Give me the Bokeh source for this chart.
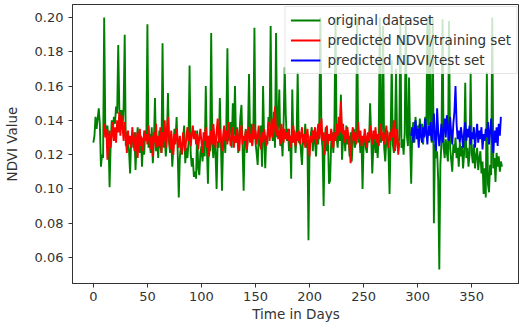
from bokeh.plotting import figure
from bokeh.models import ColumnDataSource, Legend, LegendItem, FixedTicker, PrintfTickFormatter, Range1d
from bokeh.embed import file_html
from bokeh.resources import INLINE

# ---- data ----
original_values = [
    0.127, 0.131, 0.142, 0.135, 0.141, 0.147, 0.138, 0.113, 0.120, 0.118,
    0.200, 0.138, 0.131, 0.137, 0.129, 0.101, 0.126, 0.140, 0.134, 0.142,
    0.138, 0.148, 0.144, 0.184, 0.147, 0.140, 0.146, 0.135, 0.148, 0.190,
    0.125, 0.133, 0.128, 0.122, 0.109, 0.129, 0.131, 0.124, 0.133, 0.111,
    0.127, 0.136, 0.126, 0.121, 0.131, 0.113, 0.128, 0.120, 0.134, 0.130,
    0.196, 0.124, 0.132, 0.121, 0.136, 0.115, 0.127, 0.153, 0.122, 0.130,
    0.118, 0.134, 0.125, 0.121, 0.185, 0.124, 0.131, 0.119, 0.128, 0.156,
    0.127, 0.121, 0.130, 0.113, 0.124, 0.135, 0.128, 0.142, 0.122, 0.095,
    0.118, 0.126, 0.121, 0.129, 0.137, 0.115, 0.124, 0.118, 0.127, 0.172,
    0.121, 0.113, 0.118, 0.107, 0.110, 0.106, 0.134, 0.112, 0.108, 0.121,
    0.125, 0.116, 0.128, 0.119, 0.160, 0.124, 0.103, 0.131, 0.122, 0.191,
    0.126, 0.118, 0.132, 0.121, 0.100, 0.128, 0.124, 0.153, 0.127, 0.099,
    0.126, 0.133, 0.121, 0.137, 0.182, 0.128, 0.135, 0.139, 0.124, 0.150,
    0.131, 0.160, 0.127, 0.136, 0.121, 0.130, 0.142, 0.149, 0.125, 0.099,
    0.128, 0.135, 0.121, 0.132, 0.167, 0.129, 0.138, 0.126, 0.133, 0.194,
    0.127, 0.121, 0.114, 0.131, 0.125, 0.137, 0.113, 0.160, 0.128, 0.112,
    0.131, 0.126, 0.142, 0.136, 0.195, 0.133, 0.128, 0.145, 0.124, 0.191,
    0.130, 0.137, 0.158, 0.125, 0.131, 0.119, 0.139, 0.171, 0.143, 0.128,
    0.135, 0.122, 0.131, 0.106, 0.158, 0.127, 0.134, 0.121, 0.130, 0.168,
    0.127, 0.133, 0.122, 0.114, 0.131, 0.126, 0.138, 0.124, 0.129, 0.070,
    0.125, 0.131, 0.136, 0.122, 0.134, 0.128, 0.119, 0.133, 0.126, 0.140,
    0.200, 0.131, 0.124, 0.090, 0.129, 0.136, 0.122, 0.131, 0.103, 0.105,
    0.127, 0.133, 0.121, 0.138, 0.200, 0.130, 0.124, 0.136, 0.128, 0.155,
    0.117, 0.129, 0.134, 0.122, 0.137, 0.126, 0.131, 0.119, 0.133, 0.116,
    0.128, 0.135, 0.124, 0.130, 0.200, 0.127, 0.133, 0.121, 0.129, 0.100,
    0.126, 0.132, 0.124, 0.121, 0.130, 0.127, 0.150, 0.131, 0.109, 0.125,
    0.133, 0.121, 0.128, 0.118, 0.132, 0.200, 0.127, 0.135, 0.195, 0.124,
    0.116, 0.129, 0.134, 0.122, 0.097, 0.131, 0.175, 0.126, 0.121, 0.133,
    0.170, 0.127, 0.122, 0.131, 0.200, 0.124, 0.129, 0.120, 0.133, 0.200,
    0.131, 0.125, 0.165, 0.128, 0.103, 0.134, 0.139, 0.127, 0.142, 0.131,
    0.137, 0.129, 0.141, 0.133, 0.138, 0.126, 0.135, 0.142, 0.131, 0.200,
    0.137, 0.200, 0.134, 0.127, 0.200, 0.080, 0.126, 0.118, 0.122, 0.105,
    0.053, 0.114, 0.127, 0.199, 0.124, 0.118, 0.129, 0.121, 0.116, 0.198,
    0.124, 0.117, 0.110, 0.126, 0.121, 0.130, 0.118, 0.124, 0.113, 0.127,
    0.119, 0.125, 0.112, 0.121, 0.162, 0.118, 0.124, 0.113, 0.120, 0.168,
    0.121, 0.115, 0.126, 0.112, 0.119, 0.124, 0.111, 0.118, 0.122, 0.109,
    0.116, 0.097, 0.112, 0.095, 0.168, 0.103, 0.098, 0.114, 0.108, 0.200,
    0.112, 0.118, 0.104, 0.121, 0.113, 0.119, 0.110, 0.116, 0.113,
]
original_days = list(range(len(original_values)))

train_start_day = 10
train_pred_values = [
    0.138, 0.130, 0.135, 0.117, 0.129, 0.134, 0.124, 0.131, 0.139, 0.128,
    0.136, 0.127, 0.140, 0.133, 0.145, 0.131, 0.143, 0.136, 0.128, 0.139,
    0.130, 0.121, 0.134, 0.126, 0.131, 0.124, 0.136, 0.129, 0.122, 0.133,
    0.127, 0.118, 0.131, 0.135, 0.125, 0.130, 0.122, 0.134, 0.128, 0.132,
    0.126, 0.137, 0.129, 0.123, 0.131, 0.119, 0.133, 0.127, 0.138, 0.124,
    0.131, 0.125, 0.136, 0.121, 0.133, 0.128, 0.140, 0.124, 0.135, 0.142,
    0.130, 0.123, 0.134, 0.127, 0.120, 0.132, 0.126, 0.135, 0.129, 0.124,
    0.131, 0.125, 0.120, 0.133, 0.127, 0.122, 0.130, 0.136, 0.128, 0.133,
    0.125, 0.131, 0.137, 0.129, 0.134, 0.126, 0.132, 0.123, 0.130, 0.135,
    0.127, 0.121, 0.133, 0.128, 0.136, 0.124, 0.131, 0.119, 0.129, 0.134,
    0.126, 0.138, 0.130, 0.124, 0.133, 0.141, 0.127, 0.135, 0.129, 0.122,
    0.131, 0.137, 0.128, 0.134, 0.126, 0.139, 0.132, 0.125, 0.130, 0.136,
    0.124, 0.131, 0.127, 0.135, 0.129, 0.122, 0.133, 0.137, 0.126, 0.131,
    0.128, 0.134, 0.123, 0.130, 0.136, 0.127, 0.132, 0.125, 0.138, 0.129,
    0.134, 0.126, 0.131, 0.137, 0.128, 0.123, 0.133, 0.127, 0.135, 0.130,
    0.125, 0.132, 0.139, 0.128, 0.134, 0.141, 0.130, 0.136, 0.148, 0.131,
    0.137, 0.129, 0.134, 0.126, 0.138, 0.131, 0.127, 0.135, 0.129, 0.133,
    0.128, 0.135, 0.124, 0.131, 0.127, 0.137, 0.130, 0.125, 0.133, 0.128,
    0.134, 0.126, 0.131, 0.136, 0.127, 0.132, 0.124, 0.130, 0.135, 0.128,
    0.119, 0.131, 0.127, 0.134, 0.129, 0.136, 0.126, 0.132, 0.138, 0.129,
    0.134, 0.141, 0.128, 0.133, 0.120, 0.131, 0.137, 0.126, 0.132, 0.128,
    0.135, 0.129, 0.124, 0.133, 0.128, 0.138, 0.131, 0.142, 0.133, 0.151,
    0.132, 0.138, 0.127, 0.134, 0.129, 0.136, 0.130, 0.124, 0.115, 0.131,
    0.136, 0.128, 0.133, 0.126, 0.131, 0.139, 0.129, 0.134, 0.125, 0.131,
    0.127, 0.135, 0.130, 0.124, 0.133, 0.128, 0.137, 0.131, 0.126, 0.134,
    0.129, 0.136, 0.127, 0.132, 0.125, 0.134, 0.138, 0.128, 0.133, 0.126,
    0.131, 0.137, 0.129, 0.124, 0.133, 0.128, 0.135, 0.130, 0.140, 0.122,
    0.129, 0.135, 0.120, 0.127,
]
train_days = list(range(train_start_day, train_start_day + len(train_pred_values)))

test_start_day = 294
test_pred_values = [
    0.131, 0.136, 0.127, 0.134, 0.140, 0.129, 0.135, 0.124, 0.138, 0.131,
    0.127, 0.136, 0.130, 0.141, 0.133, 0.126, 0.137, 0.131, 0.139, 0.128,
    0.134, 0.144, 0.129, 0.122, 0.147, 0.133, 0.125, 0.131, 0.138, 0.127,
    0.134, 0.141, 0.130, 0.143, 0.136, 0.128, 0.142, 0.133, 0.126, 0.138,
    0.145, 0.160, 0.138, 0.129, 0.134, 0.127, 0.136, 0.131, 0.124, 0.133,
    0.139, 0.128, 0.135, 0.130, 0.137, 0.126, 0.133, 0.129, 0.136, 0.124,
    0.131, 0.138, 0.127, 0.134, 0.129, 0.136, 0.123, 0.132, 0.128, 0.135,
    0.130, 0.139, 0.126, 0.133, 0.141, 0.129, 0.121, 0.134, 0.127, 0.136,
    0.125, 0.138, 0.131, 0.142,
]
test_days = list(range(test_start_day, test_start_day + len(test_pred_values)))

x_ticks = [0, 50, 100, 150, 200, 250, 300, 350]
y_ticks = [0.06, 0.08, 0.10, 0.12, 0.14, 0.16, 0.18, 0.20]
series_labels = ["original dataset", "predicted NDVI/training set", "predicted NDVI/test set"]
series_colors = ["#008000", "#ff0000", "#0000ff"]

# ---- figure ----
FONT = "DejaVu Sans"
p = figure(width=519, height=324, output_backend="svg", toolbar_location=None,
           x_range=Range1d(-19.3, 394.2), y_range=Range1d(0.0448, 0.2076),
           min_border_left=69, min_border_right=0, min_border_top=4, min_border_bottom=41)
p.background_fill_color = "white"
p.border_fill_color = "white"
p.outline_line_color = "#333333"
p.outline_line_width = 1
p.xgrid.visible = False
p.ygrid.visible = False

src_o = ColumnDataSource(dict(x=original_days, y=original_values))
src_tr = ColumnDataSource(dict(x=train_days, y=train_pred_values))
src_te = ColumnDataSource(dict(x=test_days, y=test_pred_values))

r0 = p.line("x", "y", source=src_o, line_color=series_colors[0], line_width=1.9)
r1 = p.line("x", "y", source=src_tr, line_color=series_colors[1], line_width=1.9)
r2 = p.line("x", "y", source=src_te, line_color=series_colors[2], line_width=1.9)

for ax in (p.xaxis[0], p.yaxis[0]):
    ax.axis_line_color = "#333333"
    ax.major_tick_line_color = "#333333"
    ax.major_tick_out = 4
    ax.major_tick_in = 0
    ax.minor_tick_line_color = None
    ax.major_label_text_font = FONT
    ax.major_label_text_font_size = "13px"
    ax.major_label_text_color = "#333333"
    ax.axis_label_text_font = FONT
    ax.axis_label_text_font_size = "13.5px"
    ax.axis_label_text_font_style = "normal"
    ax.axis_label_text_color = "#333333"

p.xaxis[0].ticker = FixedTicker(ticks=x_ticks)
p.yaxis[0].ticker = FixedTicker(ticks=y_ticks)
p.yaxis[0].formatter = PrintfTickFormatter(format="%.2f")
p.xaxis[0].axis_label = "Time in Days"
p.yaxis[0].axis_label = "NDVI Value"
p.xaxis[0].major_label_standoff = 4
p.yaxis[0].major_label_standoff = 5
p.xaxis[0].axis_label_standoff = 2
p.yaxis[0].axis_label_standoff = 12

legend = Legend(items=[
    LegendItem(label=series_labels[0], renderers=[r0]),
    LegendItem(label=series_labels[1], renderers=[r1]),
    LegendItem(label=series_labels[2], renderers=[r2]),
], location="top_right")
legend.label_text_font = FONT
legend.label_text_font_size = "13.5px"
legend.label_text_color = "#333333"
legend.glyph_width = 30
legend.glyph_height = 16
legend.label_height = 16
legend.label_standoff = 7
legend.spacing = 4
legend.padding = 5
legend.margin = 2
legend.border_line_color = "#cccccc"
legend.background_fill_alpha = 0.8
p.add_layout(legend)

open("out.html", "w").write(file_html(p, INLINE))
